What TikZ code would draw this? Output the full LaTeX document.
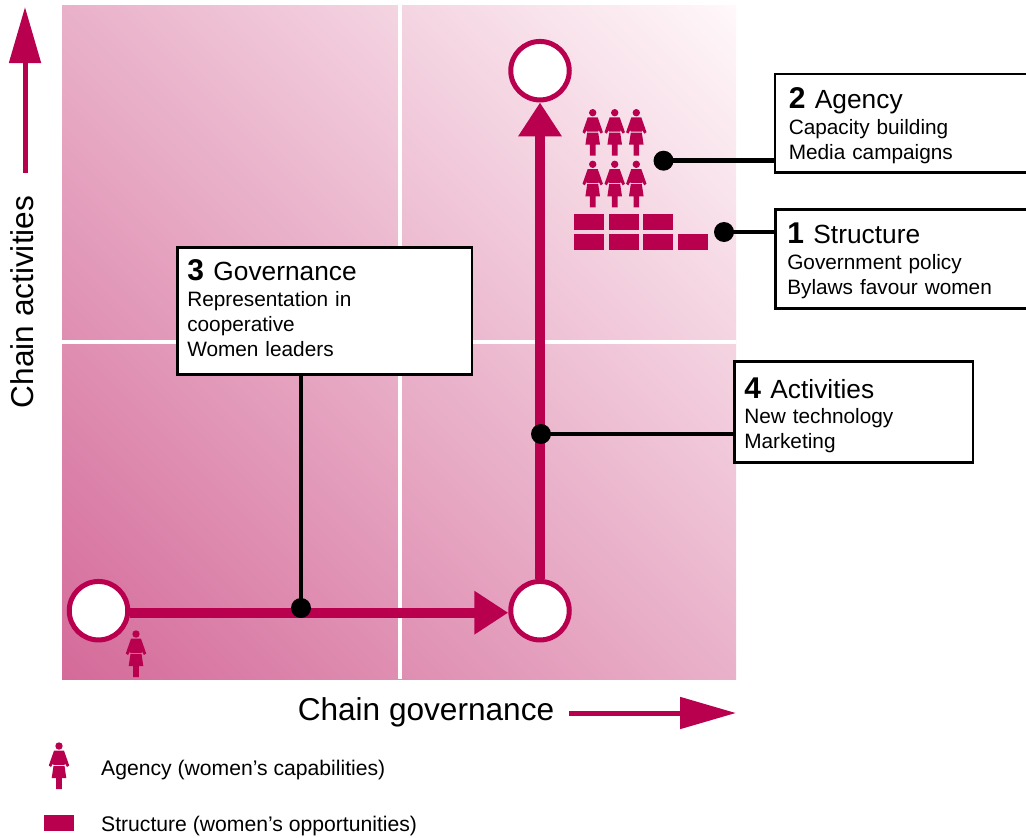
\documentclass[tikz,border=0pt]{standalone}
\usepackage{fontspec}
\setmainfont{Liberation Sans}
\usetikzlibrary{arrows.meta,shadings}
\definecolor{wine}{HTML}{B8004F}
\definecolor{fieldlow}{HTML}{D46A99}
\definecolor{fieldhigh}{HTML}{FFF8FA}
\newcommand{\boxhead}[3]{{\rule{0pt}{#1pt}\fontsize{30}{34}\selectfont\textbf{#2}\hspace{9.5pt}\fontsize{26.3}{30}\selectfont #3}}
\begin{document}
\begin{tikzpicture}[
    x=1pt, y=-1pt,
    font=\fontsize{21.15}{25}\selectfont,
    stage/.style={circle, draw=wine, line width=5pt, fill=white, minimum size=58.5pt, inner sep=0pt},
    dot/.style={circle, fill=black, minimum size=20pt, inner sep=0pt, outer sep=0pt},
    infobox/.style={draw=black, line width=2.5pt, fill=white, anchor=north west, align=left, inner sep=0pt, inner xsep=10pt, font=\fontsize{20.8}{25}\selectfont},
    textup/.style={execute at end node={\vspace{#1}}},
    link/.style={line width=4.5pt, black},
    flow/.style={line width=10pt, wine, -{Triangle[length=34pt, width=41.5pt]}},
    axis/.style={line width=5pt, wine, -{Triangle[length=56pt, width=31pt]}},
    brick/.style={fill=wine, draw=none, minimum width=30pt, minimum height=16pt, inner sep=0pt, anchor=north west},
    axislabel/.style={font=\fontsize{31.6}{36}\selectfont},
    woman/.pic={
        \fill[wine] (0,0) circle (3.7);
        \fill[wine] (-5,4.7) -- (5,4.7) -- (10.2,19.5) -- (8,21) -- (6,17.5) -- (5.5,18.8) -- (-5.5,18.8) -- (-6,17.5) -- (-8,21) -- (-10.2,19.5) -- cycle;
        \fill[wine] (-5.5,19.8) -- (5.5,19.8) -- (7.3,32) -- (2.8,32) -- (2.8,43) -- (-2.8,43) -- (-2.8,32) -- (-7.3,32) -- cycle;
    }
]
    \useasboundingbox (0,0) rectangle (1026,838);
    % field
    \shade[lower left=fieldlow, upper right=fieldhigh, lower right=fieldlow!50!fieldhigh, upper left=fieldlow!50!fieldhigh] (62,5) rectangle (736,679);
    \draw[white, line width=3.5pt] (400,5) -- (400,679);
    \draw[white, line width=3.5pt] (62,342) -- (736,342);
    % axes
    \coordinate (ybase) at (25,173);
    \coordinate (ytip) at (25,7);
    \coordinate (xbase) at (569,713);
    \coordinate (xtip) at (736,713);
    \draw[axis] (ybase) -- (ytip);
    \draw[axis] (xbase) -- (xtip);
    \node[axislabel, rotate=90] (ylabel) at (22,302) {Chain activities};
    \node[axislabel] (xlabel) at (426,712) {Chain governance};
    % stages
    \node[stage] (low) at (98.5,610.7) {};
    \node[stage] (mid) at (540,610.7) {};
    \node[stage] (top) at (540,70.7) {};
    \draw[flow] ([yshift=-2pt]low.east) -- ([yshift=-2pt]mid.west);
    \draw[flow] (mid) -- (top);
    % women
    \pic at (136,634) {woman};
    \foreach \x in {592.7,614.7,636.3}
        \foreach \y in {112.7,164.3}
            \pic at (\x,\y) {woman};
    % bricks
    \node[brick] (b1) at (574,214) {};
    \node[brick] (b2) at (609,214) {};
    \node[brick] (b3) at (643,214) {};
    \node[brick] (b4) at (574,234) {};
    \node[brick] (b5) at (609,234) {};
    \node[brick] (b6) at (643,234) {};
    \node[brick] (b7) at (678,234) {};
    % boxes
    \node[infobox, minimum height=98.5pt, text width=240pt, inner xsep=14pt] (agency) at (773.5,72.7) {\boxhead{26}{2}{Agency}\\[1.5pt]Capacity building\\Media campaigns};
    \node[infobox, minimum height=99pt, text width=240pt, inner xsep=12pt] (structure) at (774,208) {\boxhead{25.6}{1}{Structure}\\[1pt]Government policy\\Bylaws favour women};
    \node[infobox, textup=6pt, minimum height=127pt, text width=274.5pt] (governance) at (176,246) {\boxhead{0}{3}{Governance}\\[1pt]Representation in\\cooperative\\Women leaders};
    \node[infobox, minimum height=101pt, text width=218.5pt] (activities) at (733,360) {\boxhead{28}{4}{Activities}\\New technology\\Marketing};
    % links
    \node[dot] (dotagency) at (663.5,160.7) {};
    \node[dot] (dotstructure) at (724,232) {};
    \node[dot] (dotactivities) at (541,434) {};
    \node[dot] (dotgovernance) at (301,608) {};
    \draw[link] (dotagency.center) -- (dotagency -| agency.west);
    \draw[link] (dotstructure.center) -- (dotstructure -| structure.west);
    \draw[link] (dotactivities.center) -- (dotactivities -| activities.west);
    \draw[link] (dotgovernance.center) -- (dotgovernance |- governance.south);
    % legend
    \pic at (59,746) {woman};
    \node[brick] (legendbrick) at (44,815) {};
    \node[anchor=west, inner sep=0pt] (legendagency) at (101,770) {Agency (women’s capabilities)};
    \node[anchor=west, inner sep=0pt] (legendstructure) at (101,826) {Structure (women’s opportunities)};
\end{tikzpicture}
\end{document}
